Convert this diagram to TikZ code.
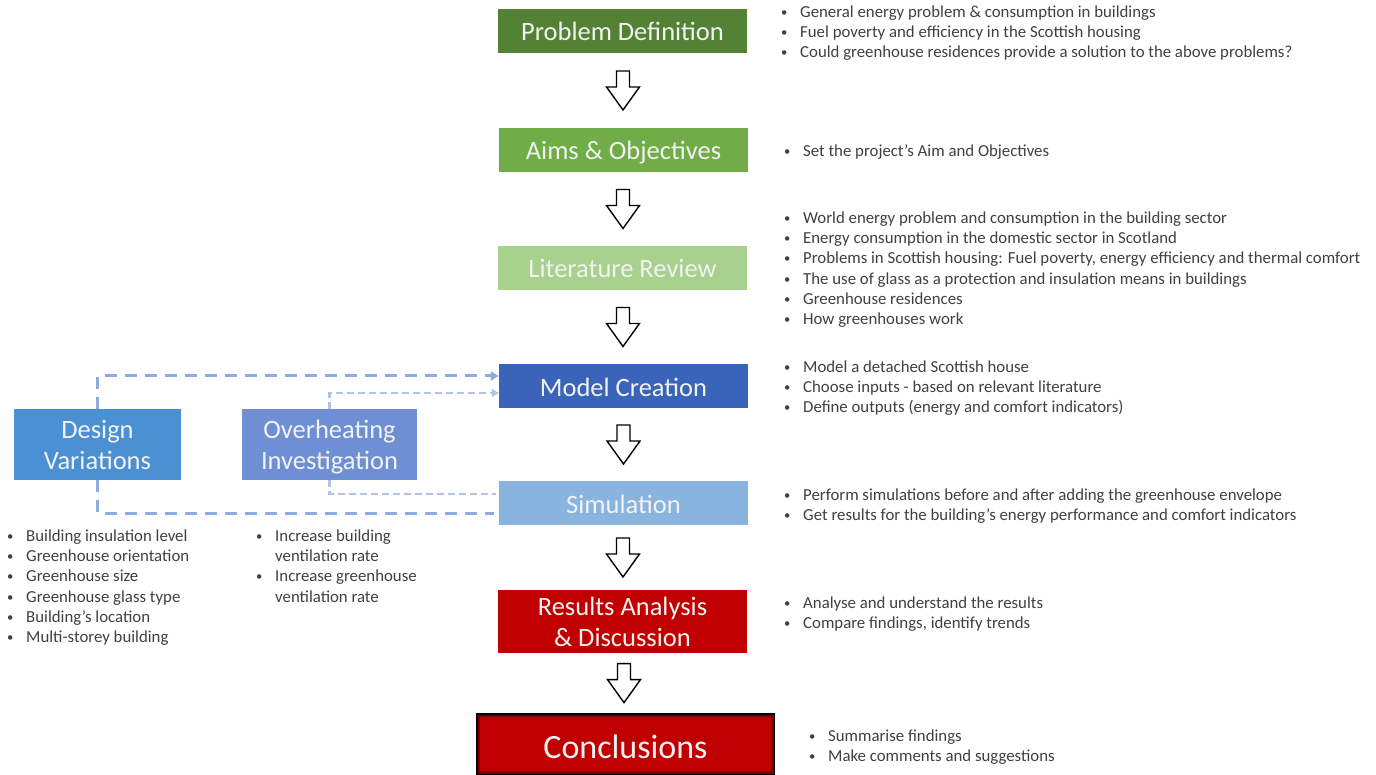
\documentclass[tikz,border=0pt]{standalone}
\usepackage{fontspec}
\setmainfont{Carlito}
\usetikzlibrary{arrows.meta,calc}

\definecolor{pdgreen}{HTML}{548235}
\definecolor{aogreen}{HTML}{70AD47}
\definecolor{lrgreen}{HTML}{A9D18E}
\definecolor{mcblue}{HTML}{3A64BA}
\definecolor{simblue}{HTML}{8AB4E0}
\definecolor{resred}{HTML}{C00000}
\definecolor{dvblue}{HTML}{4A90D2}
\definecolor{oiblue}{HTML}{6E8FD3}
\definecolor{dashA}{HTML}{8FAADC}
\definecolor{dashB}{HTML}{B0C4E6}
\definecolor{bodytext}{HTML}{404040}
\definecolor{boxtext}{HTML}{F2F2F2}
\definecolor{edgered}{HTML}{7A0000}

% one bullet line of a note list
\newcommand{\bitem}[1]{\makebox[20pt][l]{\hspace{1pt}\raisebox{1pt}{\scalebox{0.75}{\textbullet}}}#1\strut}
\newcommand{\bcont}[1]{\hspace*{20pt}#1\strut}

\begin{document}
\begin{tikzpicture}[x=1pt,y=-1pt,
  stage/.style={rectangle, inner sep=0pt, minimum width=249pt, minimum height=44pt,
    text=boxtext, font=\fontsize{26.5}{31}\selectfont, text height=20pt, text depth=0pt},
  stagetwo/.style={rectangle, inner sep=0pt, align=center, text=boxtext,
    font=\fontsize{26.5}{31}\selectfont, text height=50pt, text depth=0pt},
  notes/.style={anchor=north west, inner sep=0pt, align=left, text=bodytext,
    font=\fontsize{16.8}{20.3}\selectfont},
  feedA/.style={dashA, line width=3pt, dash pattern=on 12pt off 8pt},
  feedB/.style={dashB, line width=2.3pt, dash pattern=on 7pt off 4pt},
  downarrow/.pic={
    \draw[line width=1.4pt, fill=white, line join=miter]
      (-6.5,-19.5) -- (6.5,-19.5) -- (6.5,-3.5) -- (16.5,-3.5) -- (0,19.5)
      -- (-16.5,-3.5) -- (-6.5,-3.5) -- cycle;}
]
\useasboundingbox (0,0) rectangle (1376,775);
\fill[white] (0,0) rectangle (1376,775);

% main stages
\node[stage, fill=pdgreen] (pd) at (622.5,31) {Problem Definition};
\node[stage, fill=aogreen] (ao) at (623.5,150) {Aims \& Objectives};
\node[stage, fill=lrgreen] (lr) at (622.5,268) {Literature Review};
\node[stage, fill=mcblue] (mc) at (623.5,386) {Model Creation};
\node[stage, fill=simblue] (sim) at (623.5,503) {Simulation};
\node[stagetwo, fill=resred, minimum width=249pt, minimum height=63pt] (ra) at (622.5,621.5)
  {Results Analysis\\\& Discussion};
\node[rectangle, inner sep=0pt, minimum width=296pt, minimum height=59pt, fill=resred,
  draw=black, line width=3pt, text=boxtext, font=\fontsize{34}{40}\selectfont,
  text height=28pt, text depth=0pt] (cc) at (625.5,744) {Conclusions};
\draw[edgered, line width=2.5pt]
  ([xshift=2.75pt,yshift=-2.75pt]cc.north west) rectangle ([xshift=-2.75pt,yshift=2.75pt]cc.south east);

% side studies
\node[stagetwo, fill=dvblue, minimum width=167pt, minimum height=71pt] (dv) at (97.5,444.5)
  {Design\\Variations};
\node[stagetwo, fill=oiblue, minimum width=175pt, minimum height=71pt] (oi) at (329.5,444.5)
  {Overheating\\Investigation};

% flow arrows between stages
\foreach \a/\b in {pd/ao,ao/lr,lr/mc,mc/sim,sim/ra,ra/cc}
  \pic at ($(\a.south)!0.5!(\b.north)$) {downarrow};

% feedback loops
\draw[feedA, -{Triangle[length=8pt,width=9pt]}] (dv.north) |- ([yshift=10pt]mc.west);
\draw[feedA] (dv.south) |- ([xshift=-5pt,yshift=-10pt]sim.west);
\draw[feedB, -{Triangle[length=7pt,width=8pt]}] (oi.north) |- ([yshift=-7pt]mc.west);
\draw[feedB] (oi.south) |- ([xshift=-3pt,yshift=9pt]sim.west);

% notes
\node[notes] (pdn) at (780,2.8) {\bitem{General energy problem \& consumption in buildings}\\
  \bitem{Fuel poverty and efficiency in the Scottish housing}\\
  \bitem{Could greenhouse residences provide a solution to the above problems?}};
\node[notes] (aon) at (783,141.8) {\bitem{Set the project’s Aim and Objectives}};
\node[notes] (lrn) at (783,208.8) {\bitem{World energy problem and consumption in the building sector}\\
  \bitem{Energy consumption in the domestic sector in Scotland}\\
  \bitem{Problems in Scottish housing: Fuel poverty, energy efficiency and thermal comfort}\\
  \bitem{The use of glass as a protection and insulation means in buildings}\\
  \bitem{Greenhouse residences}\\
  \bitem{How greenhouses work}};
\node[notes] (mcn) at (783,357.8) {\bitem{Model a detached Scottish house}\\
  \bitem{Choose inputs - based on relevant literature}\\
  \bitem{Define outputs (energy and comfort indicators)}};
\node[notes] (simn) at (783,485.8) {\bitem{Perform simulations before and after adding the greenhouse envelope}\\
  \bitem{Get results for the building’s energy performance and comfort indicators}};
\node[notes] (ran) at (783,593.8) {\bitem{Analyse and understand the results}\\
  \bitem{Compare findings, identify trends}};
\node[notes] (ccn) at (808,726.8) {\bitem{Summarise findings}\\
  \bitem{Make comments and suggestions}};
\node[notes] (dvn) at (6,526.8) {\bitem{Building insulation level}\\
  \bitem{Greenhouse orientation}\\
  \bitem{Greenhouse size}\\
  \bitem{Greenhouse glass type}\\
  \bitem{Building’s location}\\
  \bitem{Multi-storey building}};
\node[notes] (oin) at (255,526.8) {\bitem{Increase building}\\
  \bcont{ventilation rate}\\
  \bitem{Increase greenhouse}\\
  \bcont{ventilation rate}};
\end{tikzpicture}
\end{document}
